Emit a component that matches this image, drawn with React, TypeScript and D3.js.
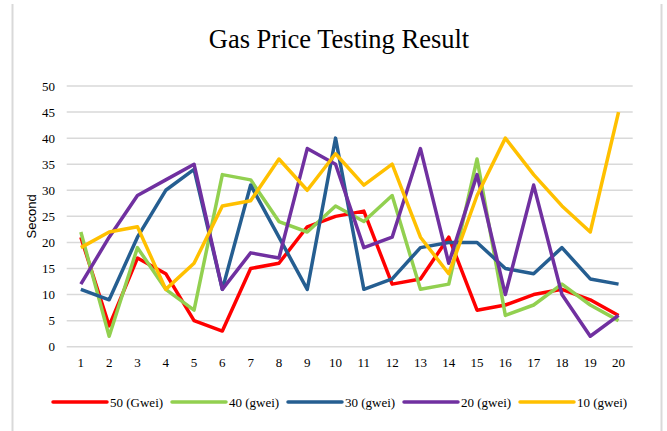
import * as d3 from "d3";

const W = 667;
const H = 431;

const runs = d3.range(1, 21);
const yTicks = [0, 5, 10, 15, 20, 25, 30, 35, 40, 45, 50];

const gwei50 = [21, 4, 17, 14, 5, 3, 15, 16, 23, 25, 26, 12, 13, 21, 7, 8, 10, 11, 9, 6];
const gwei40 = [22, 2, 19, 11, 7, 33, 32, 24, 22, 27, 24, 29, 11, 12, 36, 6, 8, 12, 8, 5];
const gwei30 = [11, 9, 21, 30, 34, 11, 31, 21, 11, 40, 11, 13, 19, 20, 20, 15, 14, 19, 13, 12];
const gwei20 = [12, 21, 29, 32, 35, 11, 18, 17, 38, 35, 19, 21, 38, 16, 33, 10, 31, 10, 2, 6];
const gwei10 = [19, 22, 23, 11, 16, 27, 28, 36, 30, 37, 31, 35, 21, 14, 29, 40, 33, 27, 22, 45];

const seriesNames = ["50 (Gwei)", "40 (gwei)", "30 (gwei)", "20 (gwei)", "10 (gwei)"];
const seriesColors = ["#ff0000", "#92d050", "#255e91", "#7030a0", "#ffc000"];
const seriesValues = [gwei50, gwei40, gwei30, gwei20, gwei10];

// legend slots (line start x)
const legendX = [53, 172, 288, 404, 520];

export default function App() {
  const x = d3.scalePoint<number>().domain(runs).range([66.7, 632.7]).padding(0.5);
  const y = d3.scaleLinear().domain([0, 50]).range([346.7, 86]);

  const line = d3
    .line<number>()
    .x((_, i) => x(runs[i]) as number)
    .y((d) => y(d));

  const serif = "'Liberation Serif', 'Times New Roman', serif";

  return (
    <svg
      width={W}
      height={H}
      style={{ position: "fixed", left: 0, top: 0, background: "#fff" }}
      fontFamily={serif}
    >
      {/* chart frame */}
      <line x1={12.5} x2={12.5} y1={4} y2={H} stroke="#d9d9d9" strokeWidth={2} />
      <line x1={661.5} x2={661.5} y1={4} y2={H} stroke="#d9d9d9" strokeWidth={2} />

      <text x={339} y={48} textAnchor="middle" fontSize={26.5} fill="#000">
        Gas Price Testing Result
      </text>

      {/* gridlines + y ticks */}
      {yTicks.map((t) => (
        <g key={t}>
          <line x1={66.7} x2={632.7} y1={y(t)} y2={y(t)} stroke="#d9d9d9" strokeWidth={1.5} />
          <text x={55} y={y(t)} dy="0.35em" textAnchor="end" fontSize={13} fill="#000">
            {t}
          </text>
        </g>
      ))}

      {/* x ticks */}
      {runs.map((r) => (
        <text key={r} x={x(r)} y={362} dy="0.35em" textAnchor="middle" fontSize={13} fill="#000">
          {r}
        </text>
      ))}

      <text
        transform={`translate(31,${y(25)}) rotate(-90)`}
        textAnchor="middle"
        dy="0.35em"
        fontSize={13}
        fontFamily="'Liberation Sans', Arial, sans-serif"
        fill="#000"
      >
        Second
      </text>

      {/* series */}
      {seriesValues.map((vals, i) => (
        <path
          key={seriesNames[i]}
          d={line(vals) ?? ""}
          fill="none"
          stroke={seriesColors[i]}
          strokeWidth={3.5}
          strokeLinejoin="round"
        />
      ))}

      {/* legend */}
      {seriesNames.map((name, i) => (
        <g key={name} transform={`translate(${legendX[i]},402)`}>
          <line x1={0} x2={54} y1={0} y2={0} stroke={seriesColors[i]} strokeWidth={3.5} strokeLinecap="round" />
          <text x={57} y={0} dy="0.35em" fontSize={13} fill="#000">
            {name}
          </text>
        </g>
      ))}
    </svg>
  );
}
